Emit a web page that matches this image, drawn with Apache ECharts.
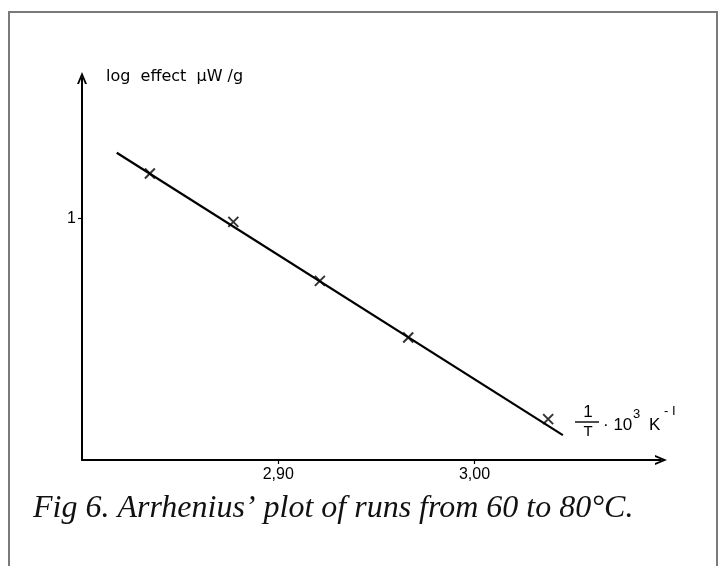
<!DOCTYPE html>
<html>
<head>
<meta charset="utf-8">
<title>Arrhenius plot</title>
<script src="https://cdn.jsdelivr.net/npm/echarts@6/dist/echarts.min.js"></script>
<style>
  html, body { margin: 0; padding: 0; background: #fff; }
  #main { width: 724px; height: 566px; }
</style>
</head>
<body>
<div id="main"></div>
<script>
// 1/T * 10^3 (K^-1) of the measured runs
var invT = [2.8346, 2.8771, 2.9212, 2.9662, 3.0375];
// log effect (uW/g) of the measured runs
var logEffect = [1.185, 0.985, 0.741, 0.507, 0.169];
// end points of the fitted straight line
var fitX = [2.8177, 3.0450];
var fitY = [1.271, 0.103];
// labelled ticks
var xTicks = [2.9, 3.0];
var xTickLabels = ['2,90', '3,00'];
var yTicks = [1];
var yTickLabels = ['1'];

var points = invT.map(function (x, i) { return [x, logEffect[i]]; });
var fitLine = fitX.map(function (x, i) { return [x, fitY[i]]; });

function tickText(ticks, labels) {
    return function (v) {
        for (var i = 0; i < ticks.length; i++) {
            if (Math.abs(v - ticks[i]) < 1e-6) return labels[i];
        }
        return '';
    };
}

// open arrow head, tip pointing up (echarts turns it along the axis)
var arrowPath = 'path://M5,0L10,12L8,12L5,4.5L2,12L0,12Z';
var crossPath = 'path://M0,0L10,10M10,0L0,10';

var myChart = echarts.init(document.getElementById('main'));
myChart.setOption({
    backgroundColor: '#fff',
    animation: false,
    grid: { left: 82, right: 63, top: 78, bottom: 106, containLabel: false },
    xAxis: {
        type: 'value',
        min: 2.8,
        max: 3.095,
        interval: 0.1,
        splitLine: { show: false },
        axisLine: {
            onZero: false,
            lineStyle: { color: '#000', width: 2 },
            symbol: ['none', arrowPath],
            symbolSize: [10, 13]
        },
        axisTick: { customValues: xTicks, length: 4, lineStyle: { color: '#000', width: 1.2 } },
        axisLabel: {
            customValues: xTicks,
            margin: 7,
            color: '#000',
            fontFamily: 'Liberation Sans',
            fontSize: 16,
            formatter: tickText(xTicks, xTickLabels)
        }
    },
    yAxis: {
        type: 'value',
        min: 0,
        max: 1.58,
        interval: 1,
        splitLine: { show: false },
        axisLine: {
            onZero: false,
            lineStyle: { color: '#000', width: 2 },
            symbol: ['none', arrowPath],
            symbolSize: [10, 13]
        },
        axisTick: { customValues: yTicks, length: 4, lineStyle: { color: '#000', width: 1.2 } },
        axisLabel: {
            customValues: yTicks,
            margin: 6,
            color: '#000',
            fontFamily: 'Liberation Sans',
            fontSize: 16,
            formatter: tickText(yTicks, yTickLabels)
        }
    },
    series: [
        {
            name: 'fit',
            type: 'line',
            data: fitLine,
            symbol: 'none',
            lineStyle: { color: '#000', width: 2.2 },
            z: 2
        },
        {
            name: 'runs',
            type: 'scatter',
            data: points,
            symbol: crossPath,
            symbolSize: 10,
            itemStyle: { color: 'none', borderColor: '#000', borderWidth: 2 },
            z: 3
        }
    ],
    graphic: [
        // frame round the figure
        {
            type: 'rect',
            shape: { x: 9, y: 12, width: 708, height: 600 },
            style: { fill: 'none', stroke: '#7a7a7a', lineWidth: 2 },
            silent: true
        },
        // y axis name
        {
            type: 'text',
            x: 106, y: 77,
            style: {
                text: 'log  effect  \u03bcW /g',
                fill: '#000',
                font: '16px "DejaVu Sans"',
                verticalAlign: 'middle'
            }
        },
        // x axis name: 1/T . 10^3 K^-1
        {
            type: 'text',
            x: 588, y: 412,
            style: { text: '1', fill: '#000', font: '17px "Liberation Sans"', align: 'center', verticalAlign: 'middle' }
        },
        {
            type: 'line',
            shape: { x1: 575, y1: 422, x2: 599, y2: 422 },
            style: { stroke: '#000', lineWidth: 1.4 }
        },
        {
            type: 'text',
            x: 588, y: 432,
            style: { text: 'T', fill: '#000', font: '15px "Liberation Sans"', align: 'center', verticalAlign: 'middle' }
        },
        {
            type: 'text',
            x: 603, y: 425,
            style: { text: '\u00b7 10', fill: '#000', font: '17px "Liberation Sans"', align: 'left', verticalAlign: 'middle' }
        },
        {
            type: 'text',
            x: 633, y: 414,
            style: { text: '3', fill: '#000', font: '13px "Liberation Sans"', align: 'left', verticalAlign: 'middle' }
        },
        {
            type: 'text',
            x: 649, y: 425,
            style: { text: 'K', fill: '#000', font: '17px "Liberation Sans"', align: 'left', verticalAlign: 'middle' }
        },
        {
            type: 'text',
            x: 664, y: 411,
            style: { text: '- I', fill: '#000', font: '13px "Liberation Sans"', align: 'left', verticalAlign: 'middle' }
        },
        // caption
        {
            type: 'text',
            left: 33,
            top: 493,
            style: {
                text: 'Fig 6. Arrhenius\u2019 plot of runs from 60 to 80\u00b0C.',
                fill: '#111',
                font: 'italic 32px "Liberation Serif"'
            }
        }
    ]
});
</script>
</body>
</html>
